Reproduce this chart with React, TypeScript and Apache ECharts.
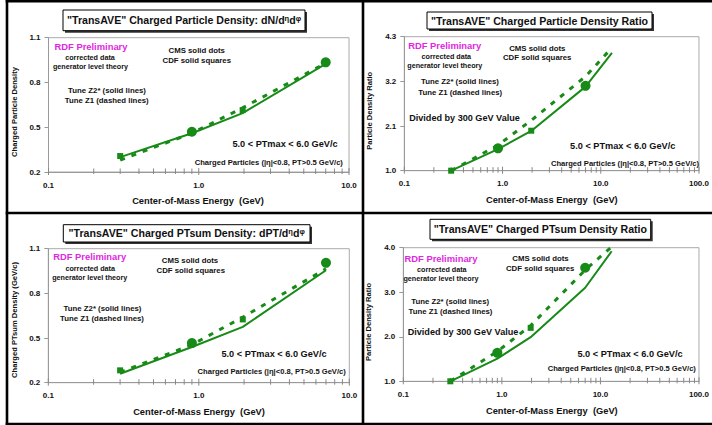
import React, { useEffect, useRef } from 'react';
import * as echarts from 'echarts';

// ---------- data (energies in the axis units shown, "GeV") ----------
const tuneEnergy = [0.3, 0.9, 1.96, 7];
const tuneEnergyRatio = [0.3, 0.9, 1.96, 7, 13];
const cmsEnergy = [0.9, 7];
const cdfEnergy = [0.3, 1.96];

// Charged particle density dN/dηdφ
const nchgZ2 = [0.30, 0.46, 0.595, 0.925];
const nchgZ1 = [0.28, 0.46, 0.63, 0.93];
const nchgCMS = [0.47, 0.935];
const nchgCDF = [0.307, 0.615];

// Charged particle density ratio (divided by 300 GeV value)
const nchgRatioZ2 = [1.0, 1.53, 1.98, 3.07, 3.9];
const nchgRatioZ1 = [1.0, 1.63, 2.24, 3.32, 4.03];
const nchgRatioCMS = [1.55, 3.09];
const nchgRatioCDF = [1.0, 1.985];

// Charged PTsum density dPT/dηdφ
const ptsumZ2 = [0.26, 0.44, 0.575, 0.955];
const ptsumZ1 = [0.27, 0.455, 0.64, 0.965];
const ptsumCMS = [0.466, 1.005];
const ptsumCDF = [0.283, 0.625];

// Charged PTsum density ratio
const ptsumRatioZ2 = [1.0, 1.51, 1.99, 3.1, 3.92];
const ptsumRatioZ1 = [1.0, 1.67, 2.25, 3.5, 4.02];
const ptsumRatioCMS = [1.64, 3.55];
const ptsumRatioCDF = [1.0, 2.2];

// tick labels
const yTicksDensity = [0.2, 0.5, 0.8, 1.1];
const yTicksNchgRatio = [1.0, 2.1, 3.2, 4.3];
const yTicksPtRatio = [1.0, 2.0, 3.0, 4.0];
const decadesTo10 = [0.1, 1];
const decadesTo100 = [0.1, 1, 10];
const minorFactors = [2, 3, 4, 5, 6, 7, 8, 9];

const GREEN = '#178a17';
const FONT = '"Liberation Sans", Arial, sans-serif';
const TXT = '#111';

const zip = (xs: number[], ys: number[]) => ys.map((y, i) => [xs[i], y]);

type Panel = {
  grid: { left: number; top: number; width: number; height: number };
  xMax: number;
  decades: number[];
  yMin: number;
  yMax: number;
  yTicks: number[];
  tuneE: number[];
  z2: number[];
  z1: number[];
  cms: number[];
  cdf: number[];
};

const panels: Panel[] = [
  { grid: { left: 48.5, top: 37.7, width: 300.5, height: 134.3 }, xMax: 10, decades: decadesTo10, yMin: 0.2, yMax: 1.1, yTicks: yTicksDensity, tuneE: tuneEnergy, z2: nchgZ2, z1: nchgZ1, cms: nchgCMS, cdf: nchgCDF },
  { grid: { left: 404.3, top: 36.7, width: 297, height: 134 }, xMax: 100, decades: decadesTo100, yMin: 1.0, yMax: 4.3, yTicks: yTicksNchgRatio, tuneE: tuneEnergyRatio, z2: nchgRatioZ2, z1: nchgRatioZ1, cms: nchgRatioCMS, cdf: nchgRatioCDF },
  { grid: { left: 48.3, top: 248.7, width: 301, height: 134 }, xMax: 10, decades: decadesTo10, yMin: 0.2, yMax: 1.1, yTicks: yTicksDensity, tuneE: tuneEnergy, z2: ptsumZ2, z1: ptsumZ1, cms: ptsumCMS, cdf: ptsumCDF },
  { grid: { left: 403.3, top: 247.7, width: 298.4, height: 133.6 }, xMax: 100, decades: decadesTo100, yMin: 1.0, yMax: 4.0, yTicks: yTicksPtRatio, tuneE: tuneEnergyRatio, z2: ptsumRatioZ2, z1: ptsumRatioZ1, cms: ptsumRatioCMS, cdf: ptsumRatioCDF },
];

function txt(text: string, x: number, y: number, size: number, color = TXT, extra: any = {}) {
  return {
    type: 'text',
    x,
    y,
    ...extra,
    style: {
      text,
      fill: color,
      font: `bold ${size}px ${FONT}`,
      textAlign: 'center',
      textVerticalAlign: 'middle',
      align: 'center',
      verticalAlign: 'middle',
    },
    z: 100,
  };
}

function titleBox(x1: number, y1: number, x2: number, y2: number, main: string, sup: boolean) {
  const cx = (x1 + x2) / 2;
  const cy = (y1 + y2) / 2;
  const rich = {
    a: { fontSize: 10.6, fontWeight: 'bold', fontFamily: FONT, fill: TXT, color: TXT },
    s: { fontSize: 7.5, fontWeight: 'bold', fontFamily: FONT, fill: TXT, color: TXT, verticalAlign: 'top' },
  };
  const text = sup ? `{a|${main}}{s|η}{a|d}{s|φ}` : `{a|${main}}`;
  return [
    { type: 'rect', shape: { x: x1 + 2, y: y1 + 2, width: x2 - x1, height: y2 - y1 }, style: { fill: '#333' }, z: 90 },
    { type: 'rect', shape: { x: x1, y: y1, width: x2 - x1, height: y2 - y1 }, style: { fill: '#fff', stroke: '#000', lineWidth: 1 }, z: 91 },
    {
      type: 'text',
      x: cx,
      y: cy,
      style: { text, rich, textAlign: 'center', textVerticalAlign: 'middle', align: 'center', verticalAlign: 'middle', font: `bold 10.6px ${FONT}` },
      z: 92,
    },
  ];
}

function annotations(p: any) {
  const out: any[] = [
    txt('RDF Preliminary', p.rdf[0], p.rdf[1], 9.4, '#e026e0'),
    txt('corrected data', p.cor[0], p.cor[1], 7.2),
    txt('generator level theory', p.gen[0], p.gen[1], 7.2),
    txt('CMS solid dots', p.cms[0], p.cms[1], 7.8),
    txt('CDF solid squares', p.cdf[0], p.cdf[1], 7.8),
    txt('Tune Z2* (solid lines)', p.z2[0], p.z2[1], 7.8),
    txt('Tune Z1 (dashed lines)', p.z1[0], p.z1[1], 7.8),
    txt('5.0 < PTmax < 6.0 GeV/c', p.pt[0], p.pt[1], 9.2),
    txt('Charged Particles (|η|<0.8, PT>0.5 GeV/c)', p.ch[0], p.ch[1], 7.6),
    txt('Center-of-Mass Energy  (GeV)', p.xn[0], p.xn[1], 9.3),
    txt(p.yname, p.yn[0], p.yn[1], 7.6, TXT, { rotation: Math.PI / 2 }),
  ];
  if (p.div) out.push(txt('Divided by 300 GeV Value', p.div[0], p.div[1], 9.1));
  return out;
}

const annot = [
  { rdf: [91, 46.7], cor: [90, 57], gen: [90.5, 66.3], cms: [196.7, 50], cdf: [196.8, 60], z2: [107, 90.7], z1: [106.7, 100.7], pt: [285, 144.3], ch: [268.8, 162], xn: [198, 200.7], yn: [14, 112], yname: 'Charged Particle Density' },
  { rdf: [444.7, 45.7], cor: [446.3, 56.7], gen: [444.8, 65.7], cms: [537.3, 48.3], cdf: [537.2, 57.7], z2: [460, 81.7], z1: [460.2, 92.7], div: [464.5, 118.3], pt: [622.7, 145.7], ch: [625, 163.3], xn: [551.8, 200], yn: [369.3, 110.8], yname: 'Particle Density Ratio' },
  { rdf: [89.7, 256.3], cor: [90.2, 268], gen: [89.7, 277], cms: [190, 260.3], cdf: [190.8, 270.3], z2: [102.5, 308.7], z1: [102, 318.7], pt: [274, 353.7], ch: [271.7, 371], xn: [199, 412], yn: [14, 320], yname: 'Charged PTsum Density (GeV/c)' },
  { rdf: [441, 258.7], cor: [441.8, 269.3], gen: [441, 278.7], cms: [540.5, 258.7], cdf: [540.2, 268.7], z2: [450.2, 301.3], z1: [450.5, 311], div: [463, 332], pt: [630, 353.7], ch: [621.8, 368.7], xn: [551.8, 411.3], yn: [368.7, 322], yname: 'Particle Density Ratio' },
];

function buildOption() {
  const grid: any[] = [];
  const xAxis: any[] = [];
  const yAxis: any[] = [];
  const series: any[] = [];

  panels.forEach((p, i) => {
    grid.push({ ...p.grid, show: true, borderColor: '#aaa', borderWidth: 1, backgroundColor: 'transparent' });
    xAxis.push({
      type: 'log',
      logBase: 10,
      gridIndex: i,
      min: 0.1,
      max: p.xMax,
      axisLine: { show: true, lineStyle: { color: '#999', width: 1 } },
      axisTick: { show: false },
      splitLine: { show: false },
      axisLabel: { margin: 9, fontSize: 8, fontWeight: 'bold', color: TXT, fontFamily: FONT, formatter: (v: number) => Number(v).toFixed(1) },
    });
    yAxis.push({
      type: 'value',
      gridIndex: i,
      min: p.yMin,
      max: p.yMax,
      axisLine: { show: true, lineStyle: { color: '#999', width: 1 } },
      axisTick: { show: true, customValues: p.yTicks, length: 4, lineStyle: { color: '#999' } },
      splitLine: { show: false },
      axisLabel: { customValues: p.yTicks, margin: 8, fontSize: 8, fontWeight: 'bold', color: TXT, fontFamily: FONT, formatter: (v: number) => Number(v).toFixed(1) },
    });

    const ticks: number[][] = [];
    p.decades.forEach((d) => {
      ticks.push([d, 1]);
      minorFactors.forEach((f) => ticks.push([+(d * f).toPrecision(3), 0]));
    });
    ticks.push([p.xMax, 1]);
    series.push({
      type: 'custom',
      xAxisIndex: i,
      yAxisIndex: i,
      silent: true,
      data: ticks.map((t) => [t[0], p.yMin, t[1]]),
      renderItem: (_params: any, api: any) => {
        const pt = api.coord([api.value(0), api.value(1)]);
        const major = api.value(2) === 1;
        return {
          type: 'line',
          shape: { x1: pt[0], y1: pt[1] - (major ? 4 : 3.5), x2: pt[0], y2: pt[1] + (major ? 3 : 2) },
          style: { stroke: '#888', lineWidth: 1 },
        };
      },
      z: 1,
    });
    series.push({
      type: 'line',
      name: 'Tune Z2*',
      xAxisIndex: i,
      yAxisIndex: i,
      data: zip(p.tuneE, p.z2),
      showSymbol: false,
      lineStyle: { color: GREEN, width: 2 },
      z: 3,
    });
    series.push({
      type: 'line',
      name: 'Tune Z1',
      xAxisIndex: i,
      yAxisIndex: i,
      data: zip(p.tuneE, p.z1),
      showSymbol: false,
      lineStyle: { color: GREEN, width: 3, type: [5, 7] },
      z: 3,
    });
    series.push({
      type: 'scatter',
      name: 'CMS',
      xAxisIndex: i,
      yAxisIndex: i,
      data: zip(cmsEnergy, p.cms),
      symbol: 'circle',
      symbolSize: 10,
      itemStyle: { color: GREEN, opacity: 1 },
      z: 5,
    });
    series.push({
      type: 'scatter',
      name: 'CDF',
      xAxisIndex: i,
      yAxisIndex: i,
      data: zip(cdfEnergy, p.cdf),
      symbol: 'rect',
      symbolSize: 6,
      itemStyle: { color: GREEN, opacity: 1 },
      z: 5,
    });
  });

  const frame = (x1: number, y1: number, x2: number, y2: number) => ({
    type: 'line',
    shape: { x1, y1, x2, y2 },
    style: { stroke: '#000', lineWidth: 2.6 },
    z: 120,
  });

  const graphic: any[] = [
    frame(7, 0, 7, 425),
    frame(363, 0, 363, 425),
    frame(5.7, 1.2, 712, 1.2),
    frame(5.7, 213, 712, 213),
    frame(5.7, 424, 712, 424),
    ...titleBox(63, 10, 305, 30.7, '"TransAVE" Charged Particle Density: dN/d', true),
    ...titleBox(427, 12, 652, 29, '"TransAVE" Charged Particle Density Ratio', false),
    ...titleBox(63.3, 224.7, 310, 242, '"TransAVE" Charged PTsum Density: dPT/d', true),
    ...titleBox(430, 219.3, 650.7, 239.3, '"TransAVE" Charged PTsum Density Ratio', false),
    ...annot.flatMap((a) => annotations(a)),
  ];

  return {
    animation: false,
    backgroundColor: '#fff',
    grid,
    xAxis,
    yAxis,
    series,
    graphic,
  };
}

export default function App() {
  const ref = useRef<HTMLDivElement>(null);
  useEffect(() => {
    document.body.style.margin = '0';
    if (!ref.current) return;
    const chart = echarts.init(ref.current, undefined, { renderer: 'svg' });
    chart.setOption(buildOption() as any);
    return () => chart.dispose();
  }, []);
  return <div ref={ref} style={{ position: 'absolute', left: 0, top: 0, width: 712, height: 425 }} />;
}
